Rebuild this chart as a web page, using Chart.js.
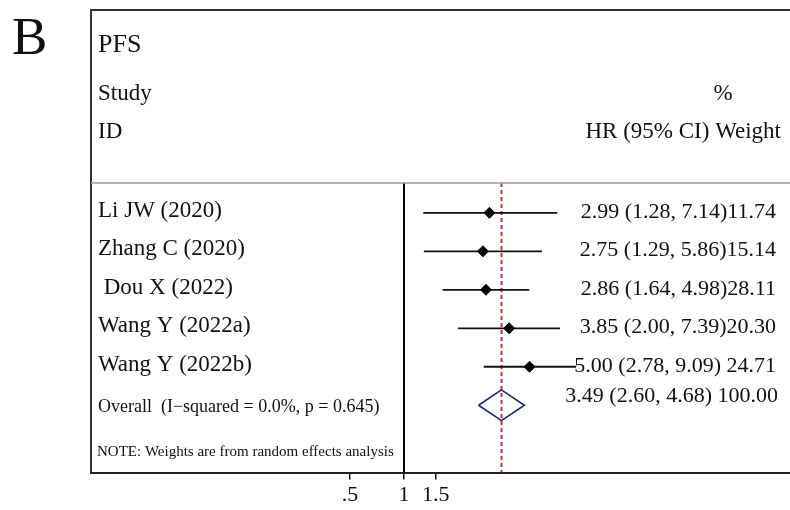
<!DOCTYPE html>
<html>
<head>
<meta charset="utf-8">
<script src="https://cdn.jsdelivr.net/npm/chart.js@4/dist/chart.umd.min.js"></script>
<style>
  html, body { margin: 0; padding: 0; background: #fff; }
  #box { width: 790px; height: 510px; position: relative; }
</style>
</head>
<body>
<div id="box"><canvas id="forest"></canvas></div>
<script>
// ===== DADOS =====
const studies = ['Li JW (2020)', 'Zhang C (2020)', ' Dou X (2022)', 'Wang Y (2022a)', 'Wang Y (2022b)'];
const hr      = [2.99, 2.75, 2.86, 3.85, 5.00];
const ciLow   = [1.28, 1.29, 1.64, 2.00, 2.78];
const ciHigh  = [7.14, 5.86, 4.98, 7.39, 9.09];
const weights = [11.74, 15.14, 28.11, 20.30, 24.71];

const overallLabel = 'Overall  (I\u2212squared = 0.0%, p = 0.645)';
const overallHr = 3.49, overallLow = 2.60, overallHigh = 4.68, overallWeight = 100.00;
const noteText = 'NOTE: Weights are from random effects analysis';

const xTicks = [0.5, 1, 1.5];
const nullValue = 1;

const SERIF = '"Liberation Serif", "Times New Roman", serif';
const rows = studies.map((_, i) => i + 1);
const overallRow = studies.length + 1;

function fmt(v) { return v.toFixed(2); }

// linhas dos intervalos de confiança, uma por estudo
const ciSets = studies.map((s, i) => ({
    type: 'line',
    data: [{ x: ciLow[i], y: rows[i] }, { x: ciHigh[i], y: rows[i] }],
    borderColor: '#111',
    borderWidth: 1.8,
    pointRadius: 0,
    order: 2
}));

// losango do efeito combinado
const half = 0.4;
const diamond = {
    type: 'line',
    data: [
        { x: overallLow, y: overallRow },
        { x: overallHr, y: overallRow - half },
        { x: overallHigh, y: overallRow },
        { x: overallHr, y: overallRow + half },
        { x: overallLow, y: overallRow }
    ],
    borderColor: '#1c2583',
    borderWidth: 1.6,
    pointRadius: 0,
    tension: 0,
    order: 1
};

const points = {
    type: 'scatter',
    data: hr.map((v, i) => ({ x: v, y: rows[i] })),
    pointStyle: 'rectRot',
    pointRadius: 5.5,
    backgroundColor: '#000',
    borderColor: '#000',
    order: 0
};

// ===== TEXTOS E LINHAS DE REFERÊNCIA =====
const forestText = {
    id: 'forestText',
    beforeDatasetsDraw(chart) {
        const { ctx, chartArea, scales } = chart;
        const sepY = 183;
        ctx.save();
        // linha nula e linha do efeito geral
        const x1 = scales.x.getPixelForValue(nullValue);
        ctx.strokeStyle = '#000';
        ctx.lineWidth = 2;
        ctx.beginPath();
        ctx.moveTo(x1, sepY);
        ctx.lineTo(x1, chartArea.bottom);
        ctx.stroke();

        const xo = scales.x.getPixelForValue(overallHr);
        ctx.strokeStyle = '#c0323e';
        ctx.lineWidth = 2;
        ctx.setLineDash([4, 3]);
        ctx.beginPath();
        ctx.moveTo(xo, sepY);
        ctx.lineTo(xo, chartArea.bottom);
        ctx.stroke();
        ctx.restore();
    },
    afterDraw(chart) {
        const { ctx, chartArea, scales } = chart;
        const left = chartArea.left;
        const right = chart.width;
        ctx.save();

        // moldura
        ctx.strokeStyle = '#333';
        ctx.lineWidth = 2;
        ctx.beginPath();
        ctx.moveTo(right, 10);
        ctx.lineTo(left, 10);
        ctx.lineTo(left, chartArea.bottom);
        ctx.stroke();

        ctx.strokeStyle = '#9a9a9a';
        ctx.lineWidth = 1.5;
        ctx.beginPath();
        ctx.moveTo(left, 183);
        ctx.lineTo(right, 183);
        ctx.stroke();

        ctx.fillStyle = '#111';
        ctx.textBaseline = 'alphabetic';

        // cabeçalho
        ctx.textAlign = 'left';
        ctx.font = '53px ' + SERIF;
        ctx.fillText('B', 12, 54);
        ctx.font = '26px ' + SERIF;
        ctx.fillText('PFS', 98, 52);
        ctx.font = '23px ' + SERIF;
        ctx.fillText('Study', 98, 100);
        ctx.fillText('ID', 98, 138);
        ctx.textAlign = 'center';
        ctx.fillText('%', 723, 100);
        ctx.textAlign = 'right';
        ctx.fillText('HR (95% CI) Weight', 781, 138);

        // estudos
        studies.forEach((s, i) => {
            const y = scales.y.getPixelForValue(rows[i]);
            ctx.font = '23px ' + SERIF;
            ctx.textAlign = 'left';
            ctx.fillText(s, 98, y + 4);
            ctx.font = '22px ' + SERIF;
            ctx.textAlign = 'right';
            const gap = i < 4 ? '' : ' ';
            ctx.fillText(fmt(hr[i]) + ' (' + fmt(ciLow[i]) + ', ' + fmt(ciHigh[i]) + ')' + gap + fmt(weights[i]), 776, y + 5);
        });

        // efeito combinado
        const yo = scales.y.getPixelForValue(overallRow);
        ctx.textAlign = 'left';
        ctx.font = '18px ' + SERIF;
        ctx.fillText(overallLabel, 98, yo + 7);
        ctx.textAlign = 'right';
        ctx.font = '22px ' + SERIF;
        ctx.fillText(fmt(overallHr) + ' (' + fmt(overallLow) + ', ' + fmt(overallHigh) + ') ' + fmt(overallWeight), 778, yo - 3);

        ctx.textAlign = 'left';
        ctx.font = '15px ' + SERIF;
        ctx.fillText(noteText, 97, 456);
        ctx.restore();
    }
};

new Chart(document.getElementById('forest'), {
    data: { datasets: [points, diamond, ...ciSets] },
    options: {
        responsive: true,
        maintainAspectRatio: false,
        animation: false,
        layout: { autoPadding: false, padding: { left: 91, right: 0, top: 10, bottom: 0 } },
        plugins: { legend: { display: false }, tooltip: { enabled: false } },
        scales: {
            x: {
                type: 'logarithmic',
                bounds: 'data',
                min: 0.01808,
                max: 141,
                afterBuildTicks(scale) {
                    scale.ticks = xTicks.map(v => ({ value: v }));
                },
                ticks: {
                    autoSkip: false,
                    maxRotation: 0,
                    padding: 2,
                    color: '#111',
                    font: { family: SERIF, size: 22 },
                    callback: v => (v === 0.5 ? '.5' : String(v))
                },
                grid: {
                    drawOnChartArea: false,
                    tickLength: 7,
                    tickColor: '#111',
                    lineWidth: 1.5
                },
                border: { display: true, color: '#222', width: 2 }
            },
            y: {
                type: 'linear',
                reverse: true,
                min: -4.27,
                max: 7.75,
                display: false
            }
        }
    },
    plugins: [forestText]
});
</script>
</body>
</html>
